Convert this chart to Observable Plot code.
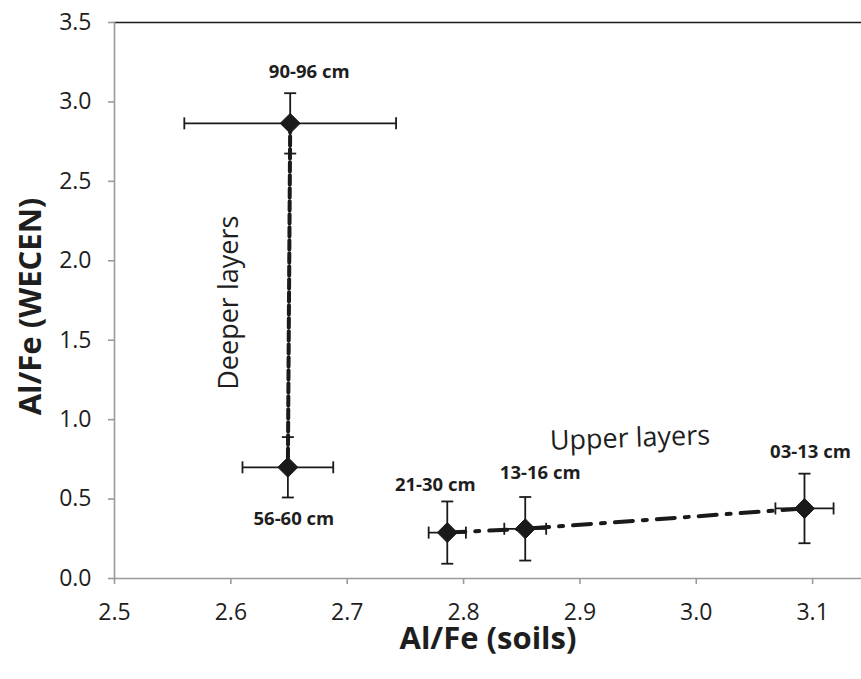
<!DOCTYPE html>
<html><head><meta charset="utf-8">
<script src="https://cdn.jsdelivr.net/npm/d3@7"></script>
<script src="https://cdn.jsdelivr.net/npm/@observablehq/plot@0.6"></script>
<style>body{margin:0;background:#fff}</style>
</head><body><div id="chart"></div>
<script>
// ---- data ----
const depthLabels = ["90-96 cm", "56-60 cm", "21-30 cm", "13-16 cm", "03-13 cm"];
const layerGroup  = ["Deeper", "Deeper", "Upper", "Upper", "Upper"];
const alFeSoils   = [2.651, 2.649, 2.786, 2.853, 3.093];
const alFeSoilsErr = [0.091, 0.039, 0.016, 0.018, 0.025];
const alFeWecen   = [2.865, 0.700, 0.289, 0.313, 0.441];
const alFeWecenErr = [0.190, 0.190, 0.196, 0.200, 0.219];
const xTicks = [2.5, 2.6, 2.7, 2.8, 2.9, 3.0, 3.1];
const yTicks = [0, 0.5, 1.0, 1.5, 2.0, 2.5, 3.0, 3.5];
const annotationTexts = ["Deeper layers", "Upper layers"];
const annotationX = [2.599, 2.943];
const annotationY = [1.736, 0.882];

// ---- styles (label offsets in px, rotation) ----
const labelDx = [19, 6, -12, 15, 6];
const labelDy = [-51, 52, -48, -56, -56];
const annotationRotate = [-90, -2];

const data = depthLabels.map((label, i) => ({
  label, group: layerGroup[i],
  x: alFeSoils[i], ex: alFeSoilsErr[i],
  y: alFeWecen[i], ey: alFeWecenErr[i]
}));
const deeper = data.filter(d => d.group === "Deeper");
const upper = data.filter(d => d.group === "Upper");

const vbar = {draw(ctx, size) { const r = Math.sqrt(size / Math.PI); ctx.moveTo(0, -r); ctx.lineTo(0, r); }};
const hbar = {draw(ctx, size) { const r = Math.sqrt(size / Math.PI); ctx.moveTo(-r, 0); ctx.lineTo(r, 0); }};
const ink = "#1a1a1a";
const axisGray = "#9a9a9a";
const textInk = "#1e1e1e";
const fmt = d3.format(".1f");

const chart = Plot.plot({
  width: 861, height: 679,
  marginLeft: 114, marginRight: 0, marginTop: 22, marginBottom: 101,
  x: {domain: [2.5, 3.142]},
  y: {domain: [0, 3.5]},
  style: {fontFamily: "'Open Sans', sans-serif", background: "#fff", color: textInk},
  marks: [
    Plot.ruleY([3.5], {stroke: ink, strokeWidth: 1.5}),
    Plot.ruleX([2.5], {stroke: axisGray, strokeWidth: 1.6}),
    Plot.ruleY([0], {stroke: axisGray, strokeWidth: 1.6}),
    Plot.axisX({ticks: xTicks, tickSize: 6, stroke: axisGray, strokeWidth: 1.6, text: null, label: null}),
    Plot.axisY({ticks: yTicks, tickSize: 6, stroke: axisGray, strokeWidth: 1.6, text: null, label: null}),
    Plot.text(xTicks, {x: d => d, frameAnchor: "bottom", lineAnchor: "middle", dy: 34, text: fmt, fontSize: 23, fill: textInk}),
    Plot.text(yTicks, {y: d => d, frameAnchor: "left", lineAnchor: "middle", dx: -23, textAnchor: "end", text: fmt, fontSize: 23, fill: textInk}),
    Plot.text(["Al/Fe (soils)"], {frameAnchor: "bottom", lineAnchor: "middle", textAnchor: "middle", dy: 61, fontSize: 31, fontWeight: "bold", fill: textInk}),
    Plot.text(["Al/Fe (WECEN)"], {frameAnchor: "left", lineAnchor: "middle", textAnchor: "middle", dx: -83, dy: 6, rotate: -90, fontSize: 31, fontWeight: "bold", fill: textInk}),
    // connecting lines
    Plot.line(deeper, {x: "x", y: "y", stroke: ink, strokeWidth: 4, strokeDasharray: "9,4"}),
    Plot.line(upper, {x: "x", y: "y", stroke: ink, strokeWidth: 4, strokeDasharray: "18,10,4,10"}),
    // error bars
    Plot.link(data, {x1: d => d.x - d.ex, x2: d => d.x + d.ex, y1: "y", y2: "y", stroke: ink, strokeWidth: 1.8}),
    Plot.link(data, {x1: "x", x2: "x", y1: d => d.y - d.ey, y2: d => d.y + d.ey, stroke: ink, strokeWidth: 1.8}),
    Plot.dot(data, {x: d => d.x - d.ex, y: "y", symbol: vbar, r: 6, fill: "none", stroke: ink, strokeWidth: 1.8}),
    Plot.dot(data, {x: d => d.x + d.ex, y: "y", symbol: vbar, r: 6, fill: "none", stroke: ink, strokeWidth: 1.8}),
    Plot.dot(data, {x: "x", y: d => d.y - d.ey, symbol: hbar, r: 6, fill: "none", stroke: ink, strokeWidth: 1.8}),
    Plot.dot(data, {x: "x", y: d => d.y + d.ey, symbol: hbar, r: 6, fill: "none", stroke: ink, strokeWidth: 1.8}),
    // markers
    Plot.dot(data, {x: "x", y: "y", symbol: "diamond2", r: 9, fill: ink, stroke: ink, strokeWidth: 1}),
    // depth labels
    ...data.map((d, i) => Plot.text([d], {x: "x", y: "y", text: "label", dx: labelDx[i], dy: labelDy[i],
      fontSize: 18.5, fontWeight: "bold", fill: textInk})),
    // annotations
    ...annotationTexts.map((t, i) => Plot.text([t], {x: () => annotationX[i], y: () => annotationY[i],
      rotate: annotationRotate[i], fontSize: 27, fill: textInk}))
  ]
});
document.getElementById("chart").append(chart);
</script>
</body></html>
